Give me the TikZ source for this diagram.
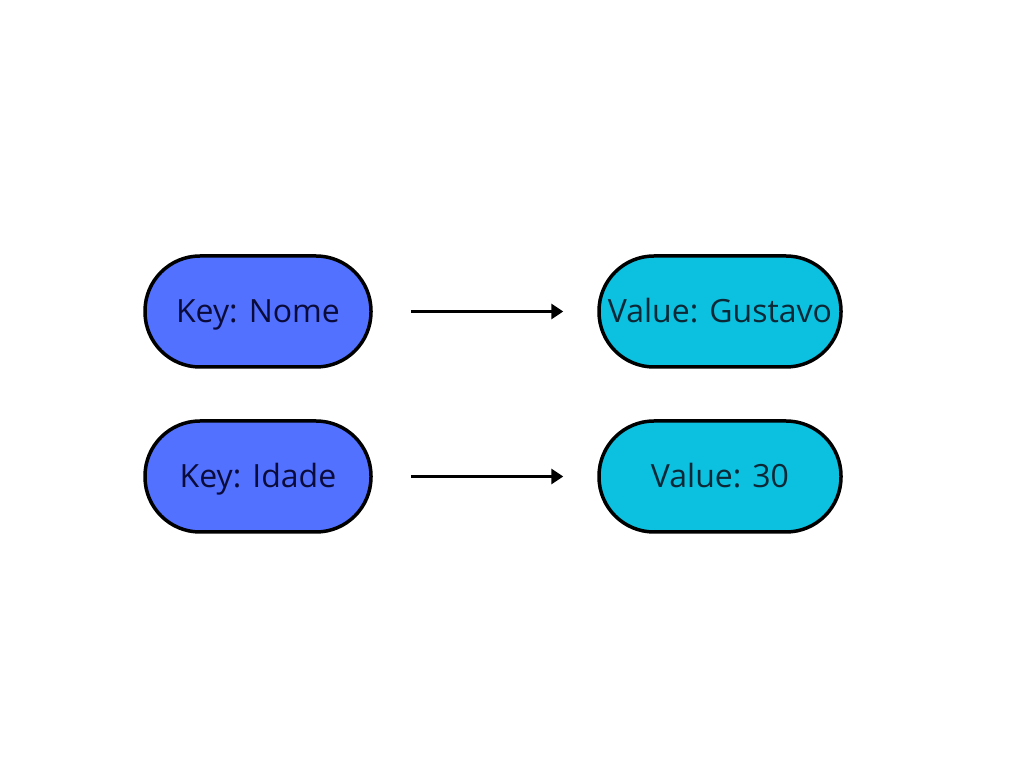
\documentclass[tikz,border=0pt]{standalone}
\usepackage{fontspec}
\setmainfont{Open Sans}
\usetikzlibrary{arrows.meta}
\definecolor{keyblue}{HTML}{5271FF}
\definecolor{valcyan}{HTML}{0CC0DF}
\definecolor{keytext}{HTML}{0B0B3B}
\definecolor{valtext}{HTML}{0B2836}
\tikzset{
  pill/.style={draw=black, line width=3.5pt, rounded corners=55pt, minimum height=111pt, inner sep=0pt, text height=22.8pt, text depth=0pt, font=\fontsize{32}{38}\selectfont},
  keynode/.style={pill, fill=keyblue, text=keytext, minimum width=226pt},
  valnode/.style={pill, fill=valcyan, text=valtext, minimum width=242pt},
  link/.style={line width=3.5pt, -{Triangle[length=12pt,width=15pt]}}
}
\begin{document}
\begin{tikzpicture}[x=1pt,y=1pt]
\useasboundingbox[fill=white] (0,0) rectangle (1024,768);
\node[keynode] (k1) at (258,456.5) {Key: Nome};
\node[valnode] (v1) at (720,456.5) {Value: Gustavo};
\node[keynode] (k2) at (258,291.5) {Key: Idade};
\node[valnode] (v2) at (720,291.5) {Value: 30};
\draw[link] ([xshift=38pt]k1.east) -- ([xshift=-34pt]v1.west);
\draw[link] ([xshift=38pt]k2.east) -- ([xshift=-34pt]v2.west);
\end{tikzpicture}
\end{document}
